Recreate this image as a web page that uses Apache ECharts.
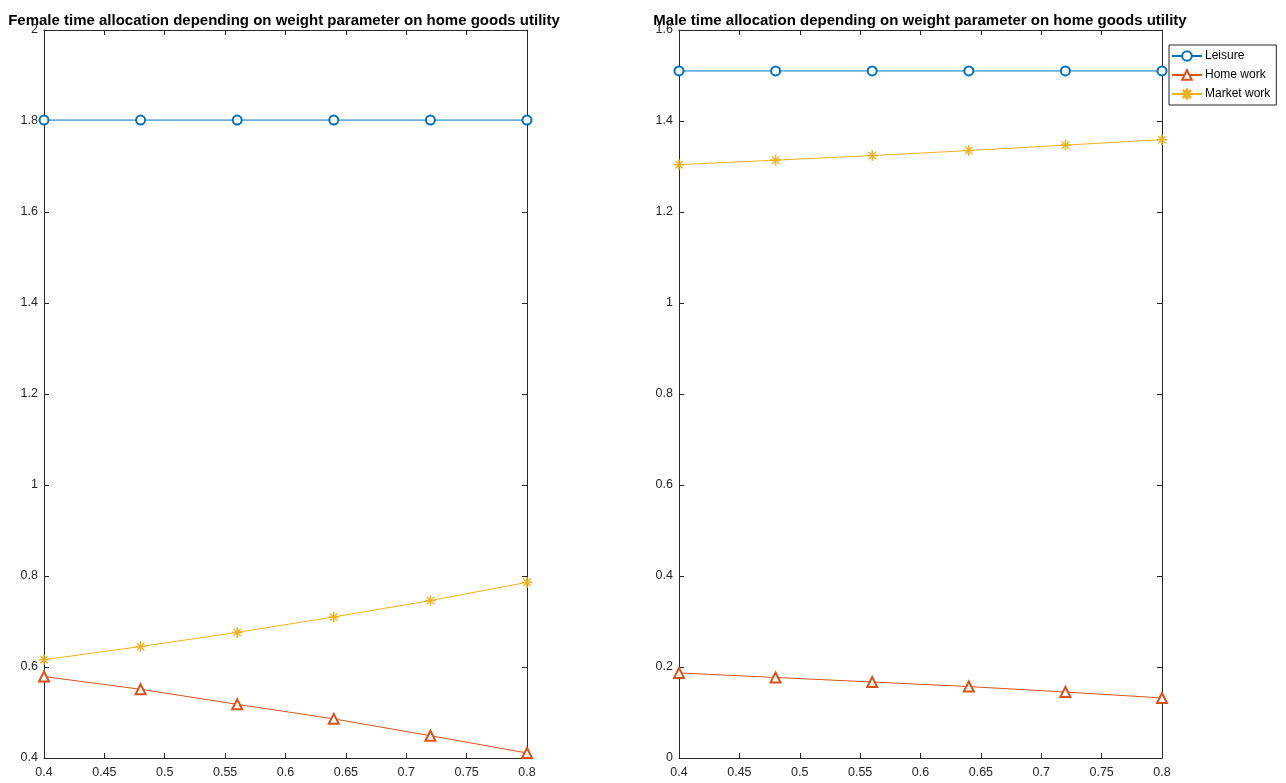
<!DOCTYPE html>
<html>
<head>
<meta charset="utf-8">
<script src="https://cdn.jsdelivr.net/npm/echarts@6/dist/echarts.min.js"></script>
<style>
  html, body { margin: 0; padding: 0; background: #fff; }
  #chart { width: 1286px; height: 783px; }
</style>
</head>
<body>
<div id="chart"></div>
<script>
// weight parameter on home goods utility
const weights = [0.4, 0.48, 0.56, 0.64, 0.72, 0.8]

// female
const femaleLeisure = [1.802, 1.802, 1.802, 1.802, 1.802, 1.802]
const femaleHome = [0.579, 0.551, 0.518, 0.486, 0.449, 0.411]
const femaleMarket = [0.616, 0.645, 0.676, 0.710, 0.746, 0.786]

// male
const maleLeisure = [1.510, 1.510, 1.510, 1.510, 1.510, 1.510]
const maleHome = [0.187, 0.177, 0.167, 0.157, 0.145, 0.132]
const maleMarket = [1.304, 1.314, 1.324, 1.335, 1.347, 1.359]

const seriesNames = ['Leisure', 'Home work', 'Market work']
const titles = [
  'Female time allocation depending on weight parameter on home goods utility',
  'Male time allocation depending on weight parameter on home goods utility'
]

const colors = ['#0072BD', '#D95319', '#EDB120']
const font = 'Arial, "Liberation Sans", Helvetica, sans-serif'
const axisColor = '#262626'

// asterisk marker (+ and x)
const star = 'path://M-0.06,-1L0.06,-1L0.06,1L-0.06,1Z' +
  'M-1,-0.06L1,-0.06L1,0.06L-1,0.06Z' +
  'M0.6647,-0.7495L0.7495,-0.6647L-0.6647,0.7495L-0.7495,0.6647Z' +
  'M0.7495,0.6647L0.6647,0.7495L-0.7495,-0.6647L-0.6647,-0.7495Z'

const grids = [
  { left: 44, right: 759, top: 30, bottom: 25 },
  { left: 679, right: 124, top: 30, bottom: 25 }
]

function pairs(ys) {
  return weights.map((w, i) => [w, ys[i]])
}

function xAxisPair(gi) {
  const base = {
    type: 'value', gridIndex: gi, min: 0.4, max: 0.8, interval: 0.05,
    splitLine: { show: false },
    axisLine: { show: true, onZero: false, lineStyle: { color: axisColor, width: 1 } },
    axisTick: { show: true, inside: true, length: 5, lineStyle: { color: axisColor } }
  }
  return [
    Object.assign({}, base, {
      position: 'bottom',
      axisLabel: { color: axisColor, fontFamily: font, fontSize: 12.5, margin: 8 }
    }),
    Object.assign({}, base, { position: 'top', axisLabel: { show: false } })
  ]
}

function yAxisPair(gi, min, max) {
  const base = {
    type: 'value', gridIndex: gi, min: min, max: max, interval: 0.2,
    splitLine: { show: false },
    axisLine: { show: true, onZero: false, lineStyle: { color: axisColor, width: 1 } },
    axisTick: { show: true, inside: true, length: 5, lineStyle: { color: axisColor } }
  }
  return [
    Object.assign({}, base, {
      position: 'left',
      axisLabel: { color: axisColor, fontFamily: font, fontSize: 12.5, margin: 6 }
    }),
    Object.assign({}, base, { position: 'right', axisLabel: { show: false } })
  ]
}

function makeSeries(gi, data) {
  const symbols = ['emptyCircle', 'emptyTriangle', star]
  const sizes = [9, 10, 10]
  return data.map((ys, k) => ({
    name: seriesNames[k],
    type: 'line',
    xAxisIndex: gi * 2,
    yAxisIndex: gi * 2,
    data: pairs(ys),
    symbol: symbols[k],
    symbolSize: sizes[k],
    showAllSymbol: true,
    color: colors[k],
    lineStyle: { color: colors[k], width: 1 },
    itemStyle: { color: colors[k], borderColor: colors[k], borderWidth: 0.9 },
    emphasis: { disabled: true },
    animation: false
  }))
}

const chart = echarts.init(document.getElementById('chart'))
const option = {
  backgroundColor: '#fff',
  animation: false,
  title: titles.map((t, i) => ({
    text: t,
    left: i === 0 ? 279 : 915,
    top: 8,
    textAlign: 'center',
    textStyle: { fontFamily: font, fontSize: 15, fontWeight: 'bold', color: '#000' }
  })),
  legend: {
    data: seriesNames,
    orient: 'vertical',
    left: 1169,
    top: 45,
    itemWidth: 30,
    itemHeight: 12,
    itemGap: 7,
    padding: [5, 6, 5, 2],
    borderColor: '#262626',
    borderWidth: 1,
    backgroundColor: '#fff',
    textStyle: { fontFamily: font, fontSize: 12, color: '#000', padding: [0, 0, 0, -2] }
  },
  grid: grids,
  xAxis: [...xAxisPair(0), ...xAxisPair(1)],
  yAxis: [...yAxisPair(0, 0.4, 2), ...yAxisPair(1, 0, 1.6)],
  series: [
    ...makeSeries(0, [femaleLeisure, femaleHome, femaleMarket]),
    ...makeSeries(1, [maleLeisure, maleHome, maleMarket])
  ]
}
chart.setOption(option)
</script>
</body>
</html>
